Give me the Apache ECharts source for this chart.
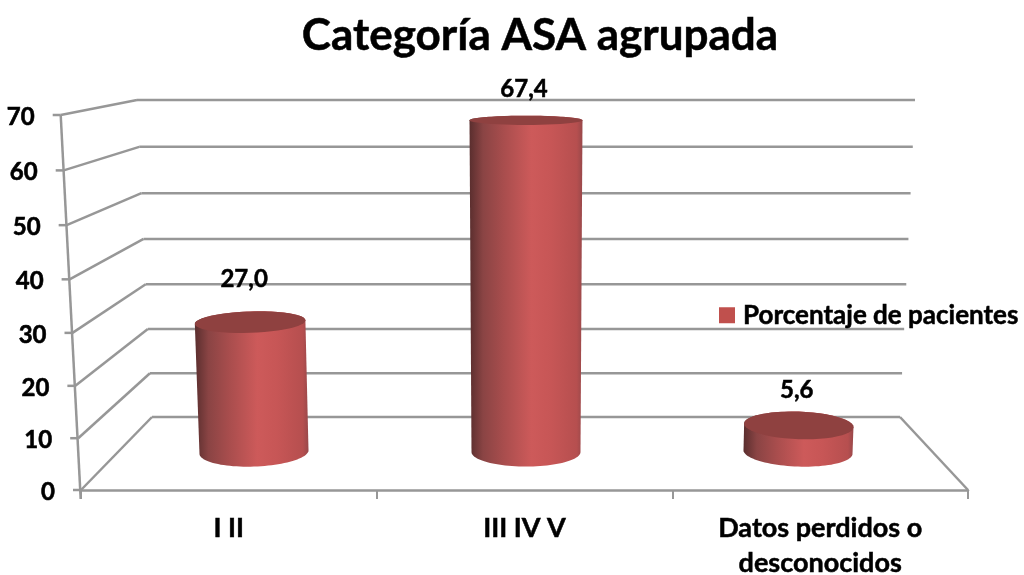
<!DOCTYPE html>
<html>
<head>
<meta charset="utf-8">
<title>Categoría ASA agrupada</title>
<script src="https://cdn.jsdelivr.net/npm/echarts@6/dist/echarts.min.js"></script>
<style>
  html, body { margin: 0; padding: 0; background: #fff; }
  #chart { width: 1024px; height: 575px; }
</style>
</head>
<body>
<div id="chart"></div>
<script>
// data
const categories = ['I II', 'III IV V', 'Datos perdidos o\ndesconocidos'];
const percentages = [27.0, 67.4, 5.6];
const yTicks = [0, 10, 20, 30, 40, 50, 60, 70];
const seriesName = 'Porcentaje de pacientes';

// styles
const FONT = 'Lato';
const LINE = '#979797';
const RED = '#c0504d';
// hand placed label offsets from the cylinder top, as in the original
const labelOffsets = [[-6, -43], [-2, -31], [-2, -35]];
// the original text is a blurry upscale, a thin outline gets the weight closer
const heavy = { textBorderColor: '#000', textBorderWidth: 0.5 };

const chart = echarts.init(document.getElementById('chart'));
window.addEventListener('resize', () => chart.resize());

// fake perspective of the box: squeezes the values a bit towards the floor
function persp(t) {
    return t / (1 + 0.04 * (1 - t));
}

function line(x1, y1, x2, y2) {
    return {
        type: 'line',
        shape: { x1, y1, x2, y2 },
        style: { stroke: LINE, lineWidth: 2.5, fill: null }
    };
}

// gridlines on the left and back walls, the floor and the y tick labels
function renderWall(params, api) {
    const v = api.value(1);
    const y0 = api.coord([0, 0])[1];
    const y70 = api.coord([0, 70])[1];
    const t = persp((y0 - api.coord([0, v])[1]) / (y0 - y70));
    const fx = 81 - 20.3 * t;
    const fy = 490 - 375 * t;
    const bl = 152 - 15 * t;
    const br = 900 + 15 * t;
    const by = 417 - 317 * t;
    const children = [
        line(fx, fy, bl, by),
        line(bl, by, br, by),
        line(fx - 8, fy, fx, fy),
        {
            type: 'text',
            style: {
                text: String(v),
                x: fx - 26,
                y: fy + 2,
                align: 'right',
                verticalAlign: 'middle',
                fontFamily: FONT,
                fontWeight: 'bold',
                fontSize: 24,
                fill: '#000',
                stroke: '#000',
                lineWidth: 0.6
            }
        }
    ];
    if (v === 0) {
        children.push(line(br, by, 968, 490));
        children.push(line(80.7, 499, 60.7, 115));
    }
    return { type: 'group', children };
}

function ellipsePoints(cx, cy, rx, ry, s, from, to) {
    const pts = [];
    for (let i = 0; i <= 48; i++) {
        const a = from + (to - from) * i / 48;
        pts.push([cx + rx * Math.cos(a), cy + ry * Math.sin(a) + s * rx * Math.cos(a)]);
    }
    return pts;
}

// one cylinder, base on the floor plane and top at the value
function renderCylinder(params, api) {
    const idx = api.value(0);
    const val = api.value(1);
    const base = api.coord([idx, 0]);
    const full = base[1] - api.coord([idx, 70])[1];
    const h = persp((base[1] - api.coord([idx, val])[1]) / full) * full;
    const topY = base[1] - h;
    const off = base[0] - api.coord([1, 0])[0];
    const topX = base[0] + off * 0.00011 * h;
    const s = off * 0.00012;
    const ry = y => 1 + 0.03 * y;
    const rb = 54.5;
    const rt = 54.5 + 0.006 * h;
    const lower = ellipsePoints(base[0], base[1], rb, ry(base[1]), s, 0, Math.PI);
    const upper = ellipsePoints(topX, topY, rt, ry(topY), s, Math.PI, 2 * Math.PI);
    const cap = ellipsePoints(topX, topY, rt, ry(topY), s, 0, 2 * Math.PI);
    return {
        type: 'group',
        children: [
            {
                type: 'polygon',
                shape: { points: lower.concat(upper) },
                style: {
                    fill: {
                        type: 'linear', x: 0, y: 0, x2: 1, y2: 0,
                        colorStops: [
                            { offset: 0, color: '#5a2e2e' },
                            { offset: 0.12, color: '#8a4444' },
                            { offset: 0.3, color: '#a84d4d' },
                            { offset: 0.55, color: '#cd5a5a' },
                            { offset: 0.72, color: '#c75656' },
                            { offset: 0.95, color: '#b64f4f' },
                            { offset: 1, color: '#98484a' }
                        ]
                    }
                }
            },
            {
                type: 'polygon',
                shape: { points: cap },
                style: { fill: '#8f4140' }
            },
            {
                type: 'text',
                style: {
                    text: val.toFixed(1).replace('.', ','),
                    x: topX + labelOffsets[idx][0],
                    y: topY + labelOffsets[idx][1],
                    align: 'center',
                    verticalAlign: 'middle',
                    fontFamily: FONT,
                    fontWeight: 'bold',
                    fontSize: 24,
                    fill: '#000',
                    stroke: '#000',
                    lineWidth: 0.5
                }
            }
        ]
    };
}

const option = {
    backgroundColor: '#fff',
    animation: false,
    textStyle: { fontFamily: FONT },
    title: {
        text: 'Categoría ASA agrupada',
        left: 535,
        top: 9,
        textAlign: 'center',
        textStyle: { fontFamily: FONT, fontWeight: 'bold', fontSize: 44, color: '#000', ...heavy }
    },
    legend: {
        left: 719,
        top: 302,
        padding: 0,
        itemWidth: 16,
        itemHeight: 16,
        data: [{ name: seriesName, icon: 'rect' }],
        selectedMode: false,
        textStyle: { fontFamily: FONT, fontWeight: 'bold', fontSize: 26, color: '#000', padding: [0, 0, 0, 3], ...heavy }
    },
    grid: [
        // front plane of the box
        { left: 81, right: 56, top: 115, bottom: 85, outerBoundsMode: 'none' },
        // plane the cylinders stand in
        { left: 118, right: 90, top: 107, bottom: 123, outerBoundsMode: 'none' }
    ],
    xAxis: [
        {
            type: 'category',
            gridIndex: 0,
            data: categories,
            axisLine: { lineStyle: { color: LINE, width: 2.5 } },
            axisTick: { show: true, length: 9, lineStyle: { color: LINE, width: 2 } },
            axisLabel: {
                margin: 21,
                interval: 0,
                color: '#000',
                fontFamily: FONT,
                fontWeight: 'bold',
                fontSize: 27,
                lineHeight: 35,
                ...heavy
            }
        },
        { type: 'category', gridIndex: 1, data: categories, show: false }
    ],
    yAxis: [
        { type: 'value', gridIndex: 0, min: 0, max: 70, interval: 10, show: false },
        { type: 'value', gridIndex: 1, min: 0, max: 70, interval: 10, show: false }
    ],
    series: [
        {
            type: 'custom',
            name: 'pared',
            xAxisIndex: 0,
            yAxisIndex: 0,
            clip: false,
            silent: true,
            z: 1,
            renderItem: renderWall,
            data: yTicks.map(v => [0, v])
        },
        {
            type: 'custom',
            name: seriesName,
            xAxisIndex: 1,
            yAxisIndex: 1,
            clip: false,
            z: 3,
            itemStyle: { color: RED },
            renderItem: renderCylinder,
            data: percentages.map((v, i) => [i, v])
        }
    ]
};

chart.setOption(option);
</script>
</body>
</html>
